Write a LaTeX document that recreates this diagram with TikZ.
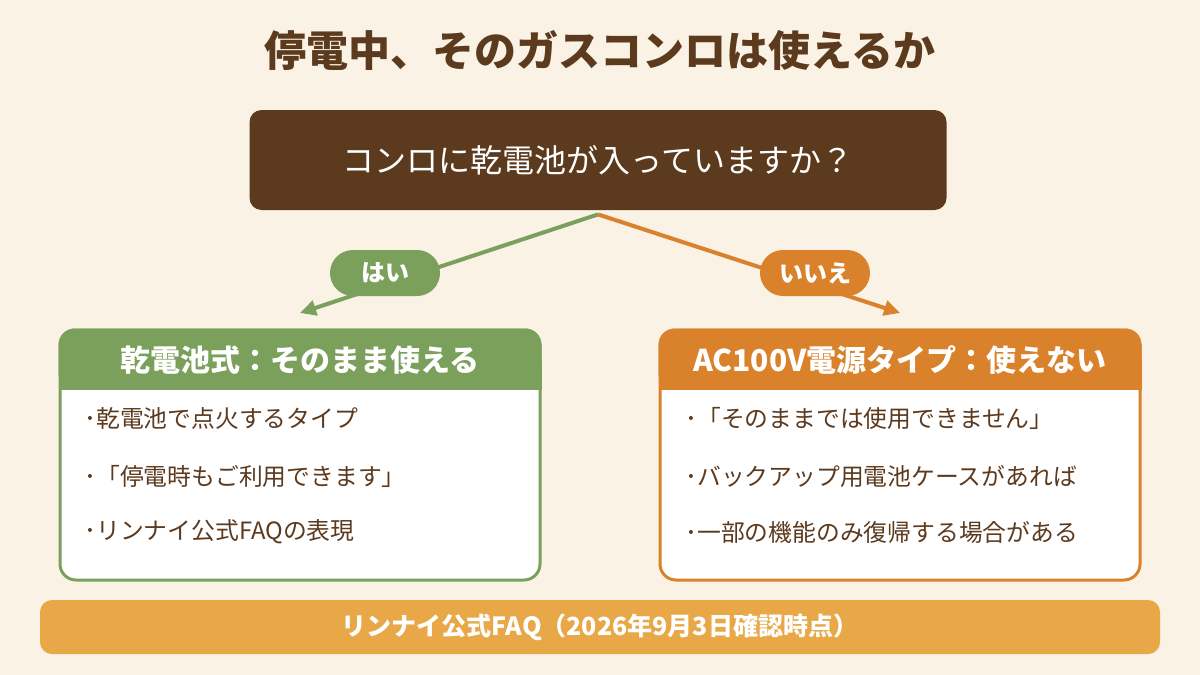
\documentclass[tikz,border=0pt]{standalone}
\usepackage{fontspec}
\setmainfont{Noto Sans CJK JP}
\usepackage{tikz}
\usetikzlibrary{arrows.meta,positioning}
\definecolor{bgcream}{RGB}{250,242,228}
\definecolor{cocoa}{RGB}{92,58,30}
\definecolor{leafgreen}{RGB}{122,160,92}
\definecolor{tangerine}{RGB}{217,130,43}
\definecolor{amber}{RGB}{232,168,72}

\begin{document}
\begin{tikzpicture}[x=0.5pt,y=-0.5pt,>={Triangle[length=8pt,width=7.5pt]},
    pill/.style={rounded corners=11.5pt,minimum width=55pt,minimum height=23pt,inner sep=0pt,
      text=white,font=\fontsize{12pt}{14pt}\selectfont\bfseries},
    answerbox/.style={draw,line width=1.5pt,fill=white,rounded corners=8pt,
      minimum width=240pt,minimum height=125pt,inner sep=0pt},
    headtxt/.style={text=white,inner sep=0pt,font=\fontsize{15pt}{18pt}\selectfont\bfseries},
    item/.style={anchor=west,inner sep=0pt,text=cocoa,font=\fontsize{11.9pt}{14pt}\selectfont},
    branch/.style={->,line width=2pt}]
  \useasboundingbox[fill=bgcream] (0,0) rectangle (1200,675);
  % title and question
  \node[text=cocoa,font=\fontsize{21pt}{25pt}\selectfont\bfseries] (title) at (600,50)
    {停電中、そのガスコンロは使えるか};
  \node[fill=cocoa,rounded corners=6pt,minimum width=348.5pt,minimum height=50pt,
    text=white,font=\fontsize{16pt}{19pt}\selectfont] (ask) at (598,160)
    {コンロに乾電池が入っていますか？};
  % two branches
  \coordinate (fork) at ([yshift=-2pt]ask.south);
  \coordinate (yestip) at (300,313);
  \coordinate (notip) at (900,313);
  \draw[branch,leafgreen] (fork) -- (yestip);
  \draw[branch,tangerine] (fork) -- (notip);
  \node[pill,fill=leafgreen] (yes) at (385,273) {はい};
  \node[pill,fill=tangerine] (no) at (815,273) {いいえ};
  % left answer: battery type
  \node[answerbox,draw=leafgreen] (lbox) at (300,455) {};
  \fill[leafgreen,rounded corners=8pt] (lbox.north west) rectangle ([yshift=-30.5pt]lbox.north east);
  \fill[leafgreen] ([yshift=-16pt]lbox.north west) rectangle ([yshift=-30.5pt]lbox.north east);
  \node[headtxt] (lhead) at (300,360) {乾電池式：そのまま使える};
  \node[item] (l1) at (84,418) {･乾電池で点火するタイプ};
  \node[item] (l2) at (84,476) {･「停電時もご利用できます」};
  \node[item] (l3) at (84,532) {･リンナイ公式FAQの表現};
  % right answer: AC powered
  \node[answerbox,draw=tangerine] (rbox) at (900,455) {};
  \fill[tangerine,rounded corners=8pt] (rbox.north west) rectangle ([yshift=-30.5pt]rbox.north east);
  \fill[tangerine] ([yshift=-16pt]rbox.north west) rectangle ([yshift=-30.5pt]rbox.north east);
  \node[headtxt] (rhead) at (900,360) {AC100V電源タイプ：使えない};
  \node[item] (r1) at (685,418) {･「そのままでは使用できません」};
  \node[item] (r2) at (685,476) {･バックアップ用電池ケースがあれば};
  \node[item] (r3) at (685,532) {･一部の機能のみ復帰する場合がある};
  % source
  \node[fill=amber,rounded corners=6pt,minimum width=560pt,minimum height=27pt,
    text=white,font=\fontsize{12.5pt}{15pt}\selectfont\bfseries] (source) at (600,627)
    {リンナイ公式FAQ（2026年9月3日確認時点）};
\end{tikzpicture}
\end{document}
